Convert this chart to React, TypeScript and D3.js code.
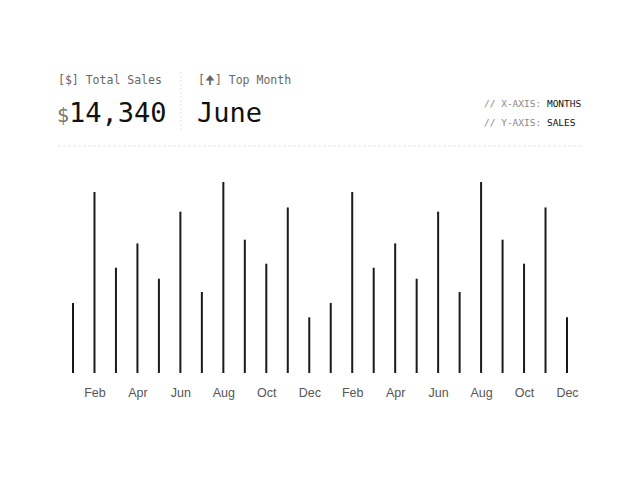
import React, { useEffect, useRef } from 'react';
import * as d3 from 'd3';

const months = ['Jan', 'Feb', 'Mar', 'Apr', 'May', 'Jun', 'Jul', 'Aug', 'Sep', 'Oct', 'Nov', 'Dec'];
// two identical years of monthly sales
const yearSales = [680, 1757, 1022, 1258, 915, 1566, 786, 1854, 1294, 1061, 1607, 540];
const sales = [...yearSales, ...yearSales];
const labels = [...months, ...months];

const totalLabel = '[$] Total Sales';
const totalValue = '14,340';
const topLabel = '[🠉] Top Month';
const topValue = 'June';

const MONO = '"DejaVu Sans Mono", monospace';
const SANS = '"Liberation Sans", Arial, sans-serif';

const App: React.FC = () => {
  const svgRef = useRef<SVGSVGElement>(null);

  useEffect(() => {
    if (!svgRef.current) return;
    const width = 640;
    const height = 480;
    const svg = d3.select(svgRef.current);
    svg.selectAll('*').remove();
    svg.attr('width', width).attr('height', height);

    // header
    svg.append('text')
      .attr('x', 58).attr('y', 84)
      .style('font-family', MONO).style('font-size', '11.5px').style('fill', '#666')
      .text(totalLabel);

    const big = svg.append('text')
      .attr('x', 57).attr('y', 122)
      .style('font-family', MONO).style('fill', '#111');
    big.append('tspan').style('font-size', '20px').style('fill', '#777').text('$');
    big.append('tspan').style('font-size', '27px').text(totalValue);

    svg.append('line')
      .attr('x1', 181).attr('x2', 181).attr('y1', 72).attr('y2', 130)
      .attr('stroke', '#e2e2e2').attr('stroke-dasharray', '2,2');

    svg.append('text')
      .attr('x', 198).attr('y', 84)
      .style('font-family', MONO).style('font-size', '11.5px').style('fill', '#666')
      .text(topLabel);

    svg.append('text')
      .attr('x', 197).attr('y', 122)
      .style('font-family', MONO).style('font-size', '27px').style('fill', '#111')
      .text(topValue);

    const axisNotes = [['// X-AXIS: ', 'MONTHS'], ['// Y-AXIS: ', 'SALES']];
    axisNotes.forEach((n, i) => {
      const t = svg.append('text')
        .attr('x', 484).attr('y', 107 + i * 19)
        .style('font-family', MONO).style('font-size', '9.5px');
      t.append('tspan').style('fill', '#888').text(n[0]);
      t.append('tspan').style('fill', '#111').text(n[1]);
    });

    svg.append('line')
      .attr('x1', 58).attr('x2', 582).attr('y1', 146).attr('y2', 146)
      .attr('stroke', '#e4e4e4').attr('stroke-dasharray', '3,2');

    // chart
    const x = d3.scalePoint<number>()
      .domain(d3.range(sales.length))
      .range([73, 567]);

    const y = d3.scaleLinear()
      .domain([0, d3.max(sales) || 1])
      .range([373, 182]);

    svg.append('g')
      .selectAll('line')
      .data(sales)
      .join('line')
      .attr('x1', (_, i) => x(i)!)
      .attr('x2', (_, i) => x(i)!)
      .attr('y1', y(0))
      .attr('y2', d => y(d))
      .attr('stroke', '#1a1a1a')
      .attr('stroke-width', 2);

    const xAxis = d3.axisBottom(x)
      .tickValues(d3.range(1, sales.length, 2))
      .tickFormat(i => labels[i as number])
      .tickSize(0)
      .tickPadding(15);

    const ax = svg.append('g')
      .attr('transform', 'translate(0,373)')
      .call(xAxis);
    ax.select('.domain').remove();
    ax.selectAll('text')
      .style('font-family', SANS)
      .style('font-size', '12.5px')
      .style('fill', '#555');
  }, []);

  return (
    <div style={{ position: 'absolute', left: 0, top: 0, width: 640, height: 480, background: '#fff' }}>
      <svg ref={svgRef} style={{ display: 'block' }}></svg>
    </div>
  );
};

export default App;
